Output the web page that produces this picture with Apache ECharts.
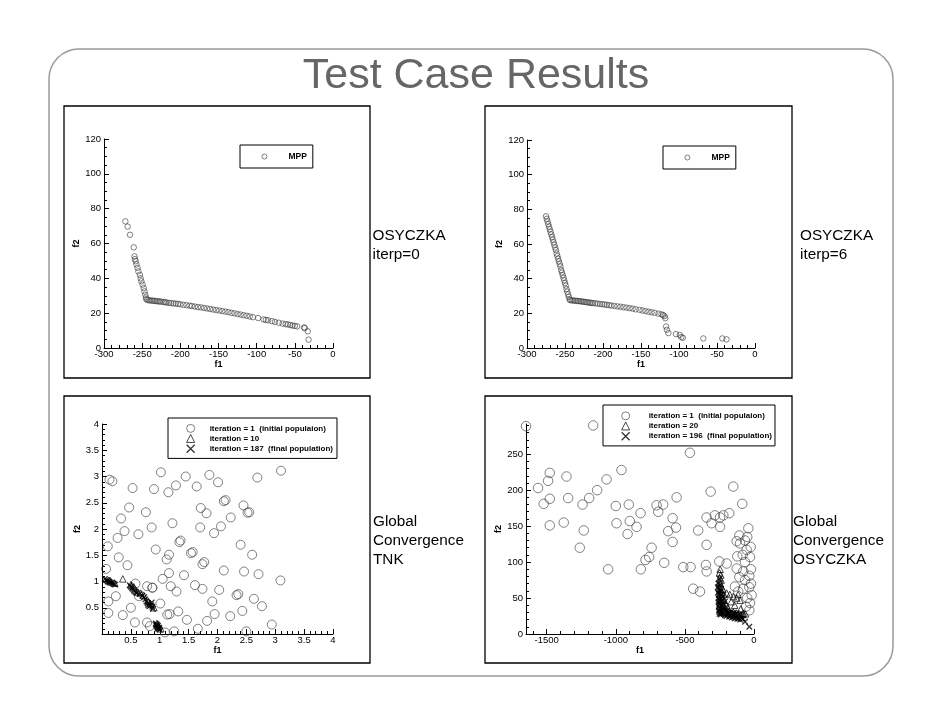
<!DOCTYPE html>
<html><head><meta charset="utf-8">
<script src="https://cdn.jsdelivr.net/npm/echarts@6/dist/echarts.min.js"></script>
<style>html,body{margin:0;padding:0;background:#fff}#c{width:942px;height:728px}</style>
</head><body><div id="c"></div>
<script>
const titleText = 'Test Case Results';
const sideLabels = ['OSYCZKA\niterp=0', 'OSYCZKA\niterp=6', 'Global\nConvergence\nTNK', 'Global\nConvergence\nOSYCZKA'];
const legendMPP = 'MPP';
const legendTNK = ['iteration = 1  (initial populaion)', 'iteration = 10', 'iteration = 187  (final population)'];
const legendOSY = ['iteration = 1  (initial populaion)', 'iteration = 20', 'iteration = 196  (final population)'];

// OSYCZKA iterp=0 : [f1, f2]
const mppIterp0 = [[-272,72.7],[-269,69.7],[-266,65],[-261,57.8],[-260,52.6],[-259.5,51],[-258.5,49.8],[-257.5,48],[-256,46],[-255,44],[-253,42],[-252,40],[-251,38.3],[-249.5,36.4],[-248,34.4],[-247,32.5],[-246,30.6],[-245,29],[-244.5,28],
[-243,27.6],[-241,27.4],[-239,27.3],[-237,27.2],[-235,27.1],[-233,27.0],[-231,26.9],[-229,26.8],[-227,26.7],[-225,26.6],[-222,26.4],[-220,26.3],[-218,26.1],[-215,25.9],[-212,25.8],[-209,25.6],[-206,25.5],[-203,25.3],[-200,25.1],[-196,24.8],[-192,24.6],[-188,24.3],[-185,24.1],[-181,23.8],[-177,23.5],[-173,23.3],[-169,23.0],[-165,22.7],[-161,22.4],[-157,22.1],[-153,21.8],[-149,21.5],[-145,21.2],[-141,20.9],[-137,20.6],[-133,20.2],[-129,19.9],[-125,19.5],[-121,19.2],[-117,18.8],[-113,18.5],[-109,18.1],[-105,17.7],[-98,17.2],[-91,16.4],[-88,16.1],[-85,15.9],[-80,15.4],[-76,15.0],[-71,14.5],[-66,14.0],[-62,13.7],[-59,13.5],[-56,13.2],[-53,12.9],[-50,12.7],[-47,12.4],[-38,11.8],[-37,11.4],[-33,9.6],[-32,4.8]];

// OSYCZKA iterp=6
const mppIterp6 = [[-275,76],[-274,74.5],[-273,73],[-272,71.5],[-271,70],[-270,68.5],[-269,67],[-268,65.5],[-267,64],[-266,62.5],[-265,61],[-264,59.5],[-263,58],[-262,56.5],[-261,54.5],[-260,53],[-259,51.5],[-258,50],[-257,48.5],[-256,47],[-255,45],[-254,43.5],[-253,42],[-252,40.5],[-251,39],[-250,37.5],[-249,36],[-248,34],[-247,32.5],[-246,31],[-245,29.5],[-244,28],
[-243,27.6],[-241,27.5],[-239,27.4],[-237,27.3],[-235,27.2],[-233,27.1],[-231,27.0],[-229,26.9],[-227,26.8],[-225,26.6],[-223,26.5],[-221,26.4],[-219,26.3],[-217,26.1],[-215,26.0],[-213,25.9],[-210,25.8],[-207,25.6],[-204,25.4],[-201,25.3],[-198,25.1],[-195,24.9],[-192,24.7],[-189,24.5],[-185,24.3],[-181,24.0],[-177,23.8],[-173,23.5],[-169,23.3],[-165,23.0],[-161,22.7],[-157,22.3],[-152,22.0],[-148,21.6],[-144,21.3],[-140,20.9],[-136,20.6],[-132,20.3],[-127,19.8],[-123,19.4],[-121,19.0],[-119,18.4],[-118,17.2],[-117,12.4],[-116,10.5],[-114,8.6],[-104,8],[-99,7.5],[-97,6.3],[-95,5.9],[-68,5.5],[-43,5.5],[-37.5,5]];

// TNK
const tnkIter1 = [[1.02,3.08],[0.13,2.94],[0.18,2.91],[0.53,2.78],[0.90,2.76],[1.15,2.70],[1.28,2.83],[1.45,3.00],[1.64,2.81],[1.86,3.03],[2.01,2.89],[2.69,2.98],[3.10,3.11],
[0.47,2.41],[0.76,2.32],[0.33,2.20],[0.39,1.96],[0.63,1.90],[0.27,1.83],[0.86,2.03],[1.22,2.11],[1.71,2.40],[1.81,2.30],[2.11,2.53],[2.14,2.55],[2.23,2.22],[2.45,2.45],[2.52,2.31],[2.55,2.32],
[1.70,2.03],[1.94,1.92],[2.06,2.05],[1.34,1.75],[1.36,1.78],[2.40,1.70],[0.10,1.67],[0.93,1.61],[1.54,1.54],[1.57,1.56],[2.60,1.51],[0.29,1.46],[0.44,1.31],[1.12,1.42],[1.16,1.51],[1.74,1.33],[1.77,1.37],
[0.07,1.24],[1.16,1.16],[1.42,1.12],[1.05,1.05],[2.11,1.21],[2.46,1.19],[2.71,1.14],[3.09,1.02],[0.24,0.72],[0.58,0.96],[0.78,0.91],[1.19,0.91],[1.29,0.81],[1.61,0.93],[1.74,0.86],[2.03,0.84],[2.33,0.74],[2.36,0.76],[2.63,0.67],[2.77,0.53],
[0.11,0.62],[0.50,0.50],[0.64,0.72],[0.36,0.36],[0.11,0.40],[0.57,0.22],[0.78,0.22],[1.01,0.58],[1.13,0.37],[1.17,0.38],[1.32,0.43],[1.47,0.27],[1.82,0.25],[1.95,0.38],[1.91,0.62],[2.22,0.34],[2.43,0.44],[1.66,0.10],[1.25,0.05],[1.09,0.03],[2.50,0.05],[2.94,0.18],[0.83,0.15],[0.87,0.88],[0.875,0.885]];
const tnkIter10 = [[0.36,1.05],[0.14,1.02],[0.22,0.97],[0.55,0.90],[0.62,0.80],[0.72,0.74],[0.80,0.62],[0.84,0.58],[0.90,0.50],[0.95,0.20],[0.98,0.14],[1.02,0.10],[0.50,0.94],[0.67,0.78]];
const tnkIter187 = [[0.05,1.05],[0.07,1.03],[0.09,1.02],[0.10,1.00],[0.12,1.00],[0.13,0.98],[0.15,0.98],[0.17,0.97],[0.19,0.96],[0.21,0.95],[0.23,0.94],
[0.48,0.93],[0.50,0.90],[0.52,0.88],[0.53,0.86],[0.55,0.84],[0.56,0.82],[0.58,0.80],[0.60,0.78],[0.65,0.76],[0.70,0.73],[0.73,0.70],[0.75,0.66],[0.77,0.62],[0.79,0.58],[0.80,0.55],[0.82,0.53],[0.85,0.55],[0.87,0.52],[0.88,0.48],[0.86,0.60],
[0.93,0.20],[0.94,0.17],[0.95,0.15],[0.96,0.13],[0.97,0.11],[0.98,0.10],[0.99,0.12],[0.95,0.18],[0.97,0.16],[1.00,0.08]];

// OSYCZKA global convergence
const osyIter1 = [[-1650,289],[-1164,290],[-464,252],[-1478,224],[-1357,219],[-1490,213],[-1563,203],[-959,228],[-1067,215],[-1135,200],[-1193,189],[-1241,180],[-1345,189],[-1478,188],[-1522,181],[-1000,178],[-906,180],[-899,157],[-995,154],[-850,149],[-915,139],[-1377,155],[-1478,151],[-1232,144],[-821,168],[-705,179],[-657,180],[-693,170],[-560,190],[-589,161],[-565,148],[-621,143],[-589,128],[-404,144],[-343,162],[-307,154],[-314,198],[-343,124],[-1261,120],[-741,120],[-759,107],[-785,103],[-650,99],[-1056,90],[-819,90],[-512,93],[-459,93],[-348,96],[-343,87],[-440,63],[-391,59],
[-150,205],[-85,181],[-283,165],[-246,162],[-222,165],[-179,168],[-246,149],[-41,147],[-106,137],[-49,135],[-125,129],[-65,130],[-101,126],[-24,121],[-53,117],[-82,110],[-121,108],[-29,107],[-65,100],[-251,101],[-198,98],[-125,91],[-78,87],[-22,90],[-34,81],[-106,79],[-65,75],[-22,70],[-34,65],[-78,63],[-17,54],[-49,50],[-29,43],[-58,38],[-34,33],[-138,66],[-114,59]];
const osyIter20 = [[-245,90],[-250,85],[-240,82],[-248,78],[-238,75],[-252,72],[-242,70],[-236,66],[-250,64],[-244,60],[-232,58],[-250,55],[-240,52],[-228,50],[-252,47],[-236,45],[-246,42],[-226,40],[-250,38],[-238,36],[-222,34],[-248,32],[-234,30],[-210,31],[-195,30],[-180,29],[-160,28],[-140,28],[-120,28],[-100,27],[-80,27],[-62,28],[-198,57],[-175,55],[-150,52],[-125,50],[-101,47],[-115,55],[-78,29],[-95,35],[-140,40],[-165,45],[-200,40],[-185,35],[-215,47],[-225,62],[-218,55]];
const osyIter196 = [[-258,70],[-262,65],[-255,62],[-260,58],[-252,55],[-258,50],[-250,47],[-256,44],[-248,42],[-254,38],[-246,36],[-252,33],[-244,31],[-250,28],[-240,27],[-230,30],[-220,28],[-210,26],[-200,25],[-190,27],[-180,24],[-170,25],[-160,23],[-150,24],[-140,22],[-130,23],[-120,21],[-110,22],[-100,20],[-90,22],[-80,21],[-65,17],[-34,10],[-235,40],[-225,35],[-215,33],[-205,37],[-195,32],[-185,30],[-175,29],[-165,31],[-155,28],[-145,30],[-135,27],[-125,29],[-115,26],[-105,27],[-95,25],[-240,50],[-230,45],[-220,42],[-210,45],[-242,60],[-235,55],[-228,52],[-250,77],[-245,68]];

// tick values
const f1TicksA = [-300,-250,-200,-150,-100,-50,0];
const f1MinorA = [-290,-280,-270,-260,-240,-230,-220,-210,-190,-180,-170,-160,-140,-130,-120,-110,-90,-80,-70,-60,-40,-30,-20,-10];
const f2TicksA = [0,20,40,60,80,100,120];
const f2MinorA = [5,10,15,25,30,35,45,50,55,65,70,75,85,90,95,105,110,115];
const tnkTicks = [0.5,1,1.5,2,2.5,3,3.5,4];
const tnkMinor = [0.1,0.2,0.3,0.4,0.6,0.7,0.8,0.9,1.1,1.2,1.3,1.4,1.6,1.7,1.8,1.9,2.1,2.2,2.3,2.4,2.6,2.7,2.8,2.9,3.1,3.2,3.3,3.4,3.6,3.7,3.8,3.9];
const osyF1Ticks = [-1500,-1000,-500,0];
const osyF1Minor = [-1600,-1400,-1300,-1200,-1100,-900,-800,-700,-600,-400,-300,-200,-100];
const osyF2Ticks = [0,50,100,150,200,250];
const osyF2Minor = [10,20,30,40,60,70,80,90,110,120,130,140,160,170,180,190,210,220,230,240,260,270,280,290];

const FONT = 'Liberation Sans';
function axisPair(dim, gridIndex, o) {
  const common = {gridIndex, type:'value', min:o.min, max:o.max, position: dim === 'x' ? 'bottom' : 'left',
    splitLine:{show:false}, axisPointer:{show:false}, silent:true};
  const main = Object.assign({}, common, {
    axisLine:{show:true, onZero:false, lineStyle:{color:'#000', width:1}},
    axisTick:{show:true, inside:true, length:5, lineStyle:{color:'#000', width:1}, customValues:o.major},
    axisLabel:{show:true, customValues:o.major, margin:o.labelMargin, fontSize:9.5, color:'#000', fontFamily:FONT,
      formatter: v => String(v)},
    name:'f' + (dim === 'x' ? 1 : 2), nameLocation:'middle', nameGap:o.nameGap,
    nameTextStyle:{fontSize:9, fontWeight:'bold', color:'#000', fontFamily:FONT}
  });
  const minor = Object.assign({}, common, {
    axisLine:{show:false, onZero:false}, axisLabel:{show:false},
    axisTick:{show:true, inside:true, length:3, lineStyle:{color:'#000', width:1}, customValues:o.minor}
  });
  return [main, minor];
}

const xAxis = [].concat(
  axisPair('x', 0, {min:-300, max:0, major:f1TicksA, minor:f1MinorA, labelMargin:1.5, nameGap:10}),
  axisPair('x', 1, {min:-300, max:0, major:f1TicksA, minor:f1MinorA, labelMargin:1.5, nameGap:10}),
  axisPair('x', 2, {min:0, max:4, major:tnkTicks, minor:tnkMinor, labelMargin:1.5, nameGap:10}),
  axisPair('x', 3, {min:-1650, max:0, major:osyF1Ticks, minor:osyF1Minor, labelMargin:1.5, nameGap:10})
);
const yAxis = [].concat(
  axisPair('y', 0, {min:0, max:120, major:f2TicksA, minor:f2MinorA, labelMargin:3, nameGap:16}),
  axisPair('y', 1, {min:0, max:120, major:f2TicksA, minor:f2MinorA, labelMargin:3, nameGap:20}),
  axisPair('y', 2, {min:0, max:4, major:tnkTicks, minor:tnkMinor, labelMargin:3, nameGap:15.5}),
  axisPair('y', 3, {min:0, max:292, major:osyF2Ticks, minor:osyF2Minor, labelMargin:3, nameGap:19})
);

const circleStyle = {color:'transparent', borderColor:'#3a3a3a', borderWidth:0.8};
const triStyle = {color:'transparent', borderColor:'#000', borderWidth:0.9};
const xStyle = {color:'transparent', borderColor:'#000', borderWidth:1.3};
const X_PATH = 'path://M0,0L10,10M10,0L0,10';

function sc(name, g, data, symbol, size, style) {
  return {type:'scatter', name, xAxisIndex:2*g, yAxisIndex:2*g, data, symbol, symbolSize:size,
    itemStyle:style, emphasis:{disabled:true}, silent:true, clip:false, animation:false};
}
const series = [
  sc(legendMPP, 0, mppIterp0, 'circle', 5.5, circleStyle),
  sc(legendMPP, 1, mppIterp6, 'circle', 5.5, circleStyle),
  sc(legendTNK[0], 2, tnkIter1, 'circle', 9, circleStyle),
  sc(legendTNK[1], 2, tnkIter10, 'triangle', 6.5, triStyle),
  sc(legendTNK[2], 2, tnkIter187, X_PATH, 5.5, xStyle),
  sc(legendOSY[0], 3, osyIter1, 'circle', 9.5, circleStyle),
  sc(legendOSY[1], 3, osyIter20, 'triangle', 6.5, triStyle),
  sc(legendOSY[2], 3, osyIter196, X_PATH, 5.5, xStyle)
];

function legendBox(items, left, top, pad, iconSize, textPad, fontSize) {
  return {orient:'vertical', left, top, padding:pad, itemGap:1.2, itemWidth:iconSize, itemHeight:iconSize,
    selectedMode:false, borderColor:'#000', borderWidth:1, backgroundColor:'#fff',
    textStyle:{fontSize, fontWeight:'bold', color:'#000', fontFamily:FONT, padding:[0,0,0,textPad], lineHeight:fontSize+0.5},
    data: items};
}
const legend = [
  legendBox([{name:legendMPP, icon:'circle', itemStyle:circleStyle}], 240, 145, [7,6,7,21.5], 5, 16.5, 8.5),
  legendBox([{name:legendMPP, icon:'circle', itemStyle:circleStyle}], 663, 146, [7,6,7,21.5], 5, 16.5, 8.5),
  legendBox([{name:legendTNK[0], icon:'circle', itemStyle:circleStyle},{name:legendTNK[1], icon:'triangle', itemStyle:triStyle},{name:legendTNK[2], icon:X_PATH, itemStyle:xStyle}], 168, 418, [6,4,5,18], 8, 10, 8),
  legendBox([{name:legendOSY[0], icon:'circle', itemStyle:circleStyle},{name:legendOSY[1], icon:'triangle', itemStyle:triStyle},{name:legendOSY[2], icon:X_PATH, itemStyle:xStyle}], 603, 405, [6.5,3,5,18], 8, 14, 8)
];

function frame(x, y, w, h) {
  return {type:'rect', silent:true, z:-1, shape:{x, y, width:w, height:h}, style:{fill:'none', stroke:'#000', lineWidth:1.3}};
}
function sideText(t, x, y) {
  return {type:'text', silent:true, x, y, style:{text:t, fontSize:15.3, fontFamily:FONT, fill:'#000', align:'left', verticalAlign:'top', lineHeight:18.8}};
}
const graphic = [
  {type:'rect', silent:true, z:-2, shape:{x:49, y:49, width:844, height:627, r:30}, style:{fill:'none', stroke:'#9a9a9a', lineWidth:1.5}},
  frame(64, 106, 306, 272), frame(485, 106, 307, 272), frame(64, 396, 306, 267), frame(485, 396, 307, 267),
  {type:'text', silent:true, x:476, y:76.5, style:{text:titleText, fontSize:43, fontFamily:FONT, fill:'#666', align:'center', verticalAlign:'middle'}},
  sideText(sideLabels[0], 372.5, 226.8),
  sideText(sideLabels[1], 800, 226.8),
  sideText(sideLabels[2], 373, 512.6),
  sideText(sideLabels[3], 793, 512.6)
];

const chart = echarts.init(document.getElementById('c'), null, {renderer:'canvas', width:942, height:728});
chart.setOption({
  animation:false,
  backgroundColor:'#fff',
  grid:[
    {left:104, top:139, width:229, height:209, outerBoundsMode:'none', containLabel:false},
    {left:527, top:140, width:228, height:208, outerBoundsMode:'none', containLabel:false},
    {left:102, top:424, width:231, height:210, outerBoundsMode:'none', containLabel:false},
    {left:526, top:424, width:228, height:210, outerBoundsMode:'none', containLabel:false}
  ],
  xAxis, yAxis, series, legend, graphic
});
</script></body></html>
